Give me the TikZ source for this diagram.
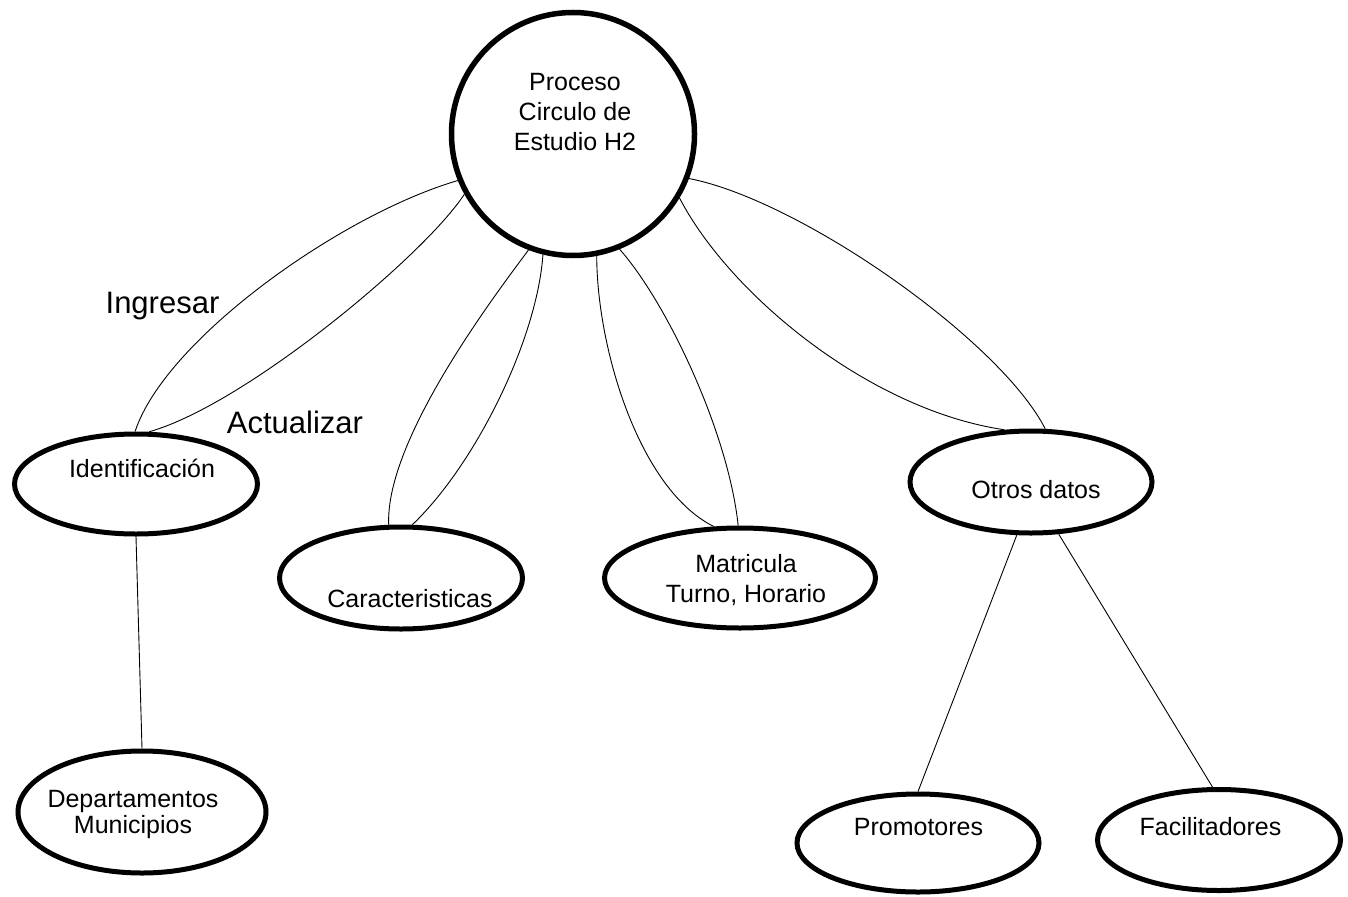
\documentclass[tikz,border=0pt]{standalone}
\usepackage{fontspec}
\setmainfont{Liberation Sans}
\usetikzlibrary{shapes.geometric}
\begin{document}
\begin{tikzpicture}[x=1pt,y=-1pt,
  oval/.style={ellipse, draw, line width=5pt, inner sep=0pt},
  txt/.style={font=\fontsize{25}{30}\selectfont, inner sep=0pt, align=center},
  lbl/.style={font=\fontsize{31}{36}\selectfont, inner sep=0pt, anchor=base},
  link/.style={line width=0.9pt}]
\useasboundingbox[fill=white] (0,0) rectangle (1348,896);

% main process circle
\node[circle, draw, line width=5.5pt, minimum size=243pt, inner sep=0pt] (proc) at (573,134) {};
\node[txt] (procT) at (575,112.5) {Proceso\\Circulo de\\Estudio H2};

% ellipses
\node[oval, minimum width=243pt, minimum height=100pt] (ident) at (136,484) {};
\node[oval, minimum width=243pt, minimum height=102pt] (car) at (401,578) {};
\node[oval, minimum width=271pt, minimum height=100pt] (mat) at (740,578) {};
\node[oval, minimum width=242pt, minimum height=102pt] (otros) at (1031,482) {};
\node[oval, minimum width=242pt, minimum height=98pt] (prom) at (918,843) {};
\node[oval, minimum width=243pt, minimum height=101pt] (facil) at (1219,840) {};
\node[oval, minimum width=248pt, minimum height=122pt] (dep) at (142,812) {};

% ellipse texts
\node[txt, anchor=base] (identT) at (142,477) {Identificación};
\node[txt, anchor=base] (carT) at (410,607) {Caracteristicas};
\node[txt] (matT) at (746,580.5) {Matricula\\Turno, Horario};
\node[txt, anchor=base] (otrosT) at (1036,498) {Otros datos};
\node[txt, anchor=base] (promT) at (918.5,835) {Promotores};
\node[txt, anchor=base] (facilT) at (1210.5,835) {Facilitadores};
\node[txt, font=\fontsize{25}{26}\selectfont] (depT) at (133,814.5) {Departamentos\\Municipios};

% connector labels
\node[lbl] (ingresar) at (162.5,313) {Ingresar};
\node[lbl] (actualizar) at (295,433) {Actualizar};

% connectors
\draw[link] (proc.202.5) .. controls (340,215) and (165,340) .. (ident.91);
\draw[link] (proc.209.8) .. controls (425,255) and (245,405) .. (ident.76);
\draw[link] (proc.249.3) .. controls (495,295) and (385,440) .. (car.103.8);
\draw[link] (proc.256.3) .. controls (537,340) and (475,465) .. (car.78.3);
\draw[link] (proc.281) .. controls (597,350) and (640,490) .. (mat.117.8);
\draw[link] (proc.292.6) .. controls (665,300) and (728,430) .. (mat.92);
\draw[link] (proc.339.6) .. controls (800,200) and (1000,340) .. (otros.75.7);
\draw[link] (proc.329.1) .. controls (730,295) and (870,410) .. (otros.117.8);
\draw[link] (ident.south) -- (dep.north);
\draw[link] (otros.255.2) -- (prom.90);
\draw[link] (otros.298.7) -- (facil.97.5);
\end{tikzpicture}
\end{document}
